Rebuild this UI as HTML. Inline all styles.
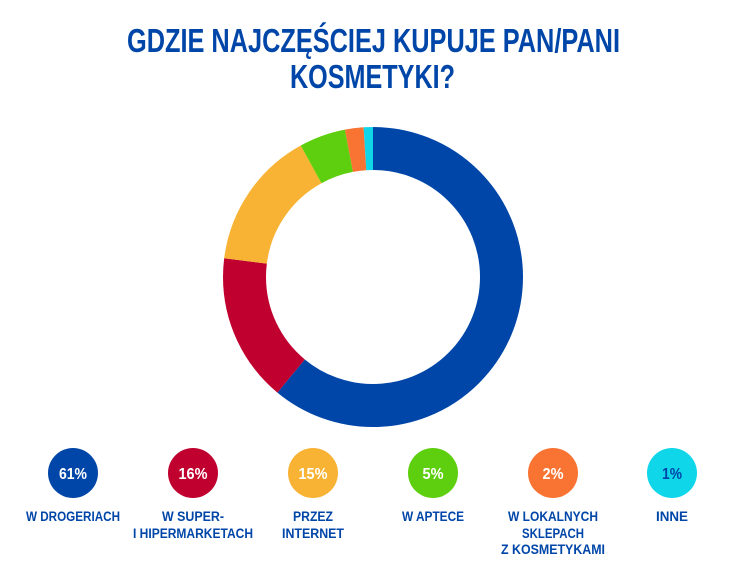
<!DOCTYPE html>
<html><head><meta charset="utf-8"><style>
html,body{margin:0;padding:0;background:#fff;}
svg{display:block;font-family:"Liberation Sans",sans-serif;font-weight:bold;}
</style></head><body>
<svg width="744" height="579" viewBox="0 0 744 579" xmlns="http://www.w3.org/2000/svg">
<rect width="744" height="579" fill="#fff"/>
<g fill="#0046a8" font-size="33" text-anchor="start">
<text x="127" y="52" textLength="493" lengthAdjust="spacingAndGlyphs">GDZIE NAJCZĘŚCIEJ KUPUJE PAN/PANI</text>
<text x="290" y="88" textLength="165" lengthAdjust="spacingAndGlyphs">KOSMETYKI?</text>
</g>
<g transform="rotate(-90 373 277)" fill="none" stroke-width="43">
<circle cx="373" cy="277" r="128.5" pathLength="100" stroke="#0046a8" stroke-dasharray="61 100" stroke-dashoffset="0"/>
<circle cx="373" cy="277" r="128.5" pathLength="100" stroke="#c0002f" stroke-dasharray="16 100" stroke-dashoffset="-61"/>
<circle cx="373" cy="277" r="128.5" pathLength="100" stroke="#f8b334" stroke-dasharray="15 100" stroke-dashoffset="-77"/>
<circle cx="373" cy="277" r="128.5" pathLength="100" stroke="#5ecf0e" stroke-dasharray="5 100" stroke-dashoffset="-92"/>
<circle cx="373" cy="277" r="128.5" pathLength="100" stroke="#f97432" stroke-dasharray="2 100" stroke-dashoffset="-97"/>
<circle cx="373" cy="277" r="128.5" pathLength="100" stroke="#10d6ea" stroke-dasharray="1 100" stroke-dashoffset="-99"/>
</g>
<g font-size="16" text-anchor="middle">
<circle cx="73" cy="473" r="25" fill="#0046a8"/><text x="73" y="479" fill="#fff" textLength="28" lengthAdjust="spacingAndGlyphs">61%</text>
<circle cx="193" cy="473" r="25" fill="#c0002f"/><text x="193" y="479" fill="#fff" textLength="29" lengthAdjust="spacingAndGlyphs">16%</text>
<circle cx="313" cy="473" r="25" fill="#f8b334"/><text x="313" y="479" fill="#fff" textLength="29" lengthAdjust="spacingAndGlyphs">15%</text>
<circle cx="433" cy="473" r="25" fill="#5ecf0e"/><text x="433" y="479" fill="#fff" textLength="21" lengthAdjust="spacingAndGlyphs">5%</text>
<circle cx="553" cy="473" r="25" fill="#f97432"/><text x="553" y="479" fill="#fff" textLength="21" lengthAdjust="spacingAndGlyphs">2%</text>
<circle cx="672" cy="473" r="25" fill="#10d6ea"/><text x="672" y="479" fill="#0046a8" textLength="20" lengthAdjust="spacingAndGlyphs">1%</text>
</g>
<g font-size="13.5" fill="#0046a8" text-anchor="middle">
<text x="73" y="521" textLength="94" lengthAdjust="spacingAndGlyphs">W DROGERIACH</text>
<text x="193" y="521" textLength="62" lengthAdjust="spacingAndGlyphs">W SUPER-</text>
<text x="193" y="538" textLength="120" lengthAdjust="spacingAndGlyphs">I HIPERMARKETACH</text>
<text x="313" y="521" textLength="40" lengthAdjust="spacingAndGlyphs">PRZEZ</text>
<text x="313" y="538" textLength="62" lengthAdjust="spacingAndGlyphs">INTERNET</text>
<text x="433" y="521" textLength="62" lengthAdjust="spacingAndGlyphs">W APTECE</text>
<text x="553" y="521" textLength="90" lengthAdjust="spacingAndGlyphs">W LOKALNYCH</text>
<text x="553" y="538" textLength="62" lengthAdjust="spacingAndGlyphs">SKLEPACH</text>
<text x="553" y="554" textLength="104" lengthAdjust="spacingAndGlyphs">Z KOSMETYKAMI</text>
<text x="672" y="521" textLength="32" lengthAdjust="spacingAndGlyphs">INNE</text>
</g>
</svg>
</body></html>
